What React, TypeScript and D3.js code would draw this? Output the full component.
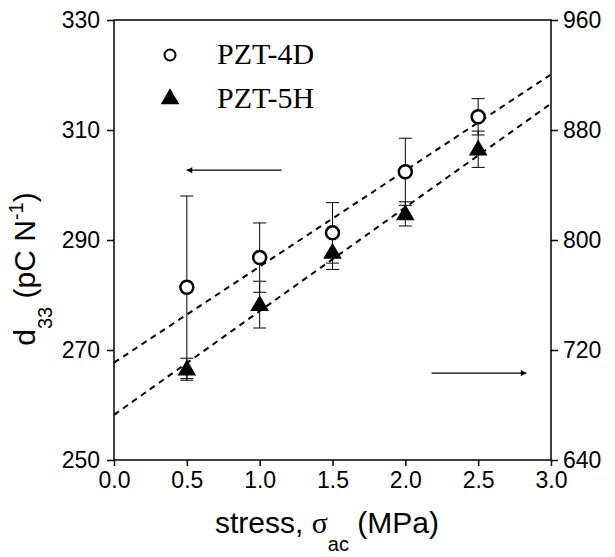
import React, { useEffect, useRef } from "react";
import * as d3 from "d3";

// stress (MPa)
const stress = [0.5, 1.0, 1.5, 2.0, 2.5];
// PZT-4D, left axis (pC/N)
const d33_4D = [281.4, 286.8, 291.3, 302.4, 312.4];
const err_4D = [16.6, 6.3, 5.5, 6.1, 3.3];
// PZT-5H, right axis (pC/N)
const d33_5H = [706, 753, 791, 819, 866];
const err_5H = [8, 17, 12.4, 8.8, 13.2];
// linear fits, end points
const fit_4D: [number, number][] = [[0, 267.7], [3, 320.1]];
const fit_5H: [number, number][] = [[0, 672.8], [3, 899.2]];
// axis arrows
const arrow_4D: [number, number][] = [[1.15, 302.7], [0.5, 302.7]];
const arrow_5H: [number, number][] = [[2.18, 703.2], [2.83, 703.2]];

const xTicks = [0, 0.5, 1.0, 1.5, 2.0, 2.5, 3.0];
const yLeftTicks = [250, 270, 290, 310, 330];
const yRightTicks = [640, 720, 800, 880, 960];

const W = 615;
const H = 557;
const sans = "'Liberation Sans', Arial, sans-serif";
const serif = "'Liberation Serif', 'Times New Roman', serif";

const App = () => {
  const svgRef = useRef(null);

  useEffect(() => {
    const root = d3.select(svgRef.current);
    root.selectAll("*").remove();

    const x = d3.scaleLinear().domain([0, 3]).range([114, 551]);
    const yL = d3.scaleLinear().domain([250, 330]).range([460, 20]);
    const yR = d3.scaleLinear().domain([640, 960]).range([460, 20]);

    const svg = root.append("g");

    // frame
    svg
      .append("rect")
      .attr("x", x(0))
      .attr("y", yL(330))
      .attr("width", x(3) - x(0))
      .attr("height", yL(250) - yL(330))
      .attr("fill", "none")
      .attr("stroke", "#000")
      .attr("stroke-width", 1.5);

    const styleAxis = (g) => {
      g.select(".domain").remove();
      g.selectAll(".tick line").attr("stroke", "#000").attr("stroke-width", 1.5);
      g.selectAll(".tick text")
        .attr("fill", "#000")
        .style("font-family", sans)
        .style("font-size", "23px");
    };

    svg
      .append("g")
      .attr("transform", `translate(0,${yL(250)})`)
      .call(
        d3.axisBottom(x).tickValues(xTicks).tickSize(6).tickPadding(6).tickFormat(d3.format(".1f")),
      )
      .call(styleAxis);

    svg
      .append("g")
      .attr("transform", `translate(${x(0)},0)`)
      .call(d3.axisLeft(yL).tickValues(yLeftTicks).tickSize(7).tickPadding(7))
      .call(styleAxis);

    svg
      .append("g")
      .attr("transform", `translate(${x(3)},0)`)
      .call(d3.axisRight(yR).tickValues(yRightTicks).tickSize(7).tickPadding(5))
      .call(styleAxis);

    // fit lines
    const lineL = d3.line<[number, number]>().x((d) => x(d[0])).y((d) => yL(d[1]));
    const lineR = d3.line<[number, number]>().x((d) => x(d[0])).y((d) => yR(d[1]));

    svg
      .append("path")
      .attr("d", lineL(fit_4D))
      .attr("fill", "none")
      .attr("stroke", "#000")
      .attr("stroke-width", 2)
      .attr("stroke-dasharray", "6,5");

    svg
      .append("path")
      .attr("d", lineR(fit_5H))
      .attr("fill", "none")
      .attr("stroke", "#000")
      .attr("stroke-width", 2)
      .attr("stroke-dasharray", "6,5");

    // error bars
    const errorBars = (vals, errs, y) => {
      const g = svg.append("g").attr("stroke", "#000").attr("stroke-width", 1);
      stress.forEach((s, i) => {
        const cx = x(s);
        const top = y(vals[i] + errs[i]);
        const bot = y(vals[i] - errs[i]);
        g.append("line").attr("x1", cx).attr("x2", cx).attr("y1", top).attr("y2", bot);
        g.append("line").attr("x1", cx - 6.5).attr("x2", cx + 6.5).attr("y1", top).attr("y2", top);
        g.append("line").attr("x1", cx - 6.5).attr("x2", cx + 6.5).attr("y1", bot).attr("y2", bot);
      });
    };
    errorBars(d33_4D, err_4D, yL);
    errorBars(d33_5H, err_5H, yR);

    // markers
    const tri = d3.symbol().type(d3.symbolTriangle).size(150);
    svg
      .append("g")
      .selectAll("path")
      .data(stress)
      .join("path")
      .attr("d", tri)
      .attr("transform", (d, i) => `translate(${x(d)},${yR(d33_5H[i]) + 1})`)
      .attr("fill", "#000");

    svg
      .append("g")
      .selectAll("circle")
      .data(stress)
      .join("circle")
      .attr("cx", (d) => x(d))
      .attr("cy", (d, i) => yL(d33_4D[i]))
      .attr("r", 6.5)
      .attr("fill", "#fff")
      .attr("stroke", "#000")
      .attr("stroke-width", 2.5);

    // arrows
    const defs = root.append("defs");
    defs
      .append("marker")
      .attr("id", "arrowhead")
      .attr("viewBox", "0 0 10 10")
      .attr("refX", 9)
      .attr("refY", 5)
      .attr("markerWidth", 8)
      .attr("markerHeight", 6)
      .attr("markerUnits", "userSpaceOnUse")
      .attr("orient", "auto")
      .append("path")
      .attr("d", "M0,0L10,5L0,10Z")
      .attr("fill", "#000");

    svg
      .append("path")
      .attr("d", lineL(arrow_4D))
      .attr("stroke", "#000")
      .attr("stroke-width", 1.2)
      .attr("marker-end", "url(#arrowhead)");

    svg
      .append("path")
      .attr("d", lineR(arrow_5H))
      .attr("stroke", "#000")
      .attr("stroke-width", 1.2)
      .attr("marker-end", "url(#arrowhead)");

    // legend
    const legend = svg.append("g");
    legend
      .append("circle")
      .attr("cx", 170)
      .attr("cy", 55)
      .attr("r", 5.5)
      .attr("fill", "#fff")
      .attr("stroke", "#000")
      .attr("stroke-width", 2);
    legend
      .append("path")
      .attr("d", tri)
      .attr("transform", "translate(170,99)")
      .attr("fill", "#000");
    legend
      .append("text")
      .attr("x", 217)
      .attr("y", 64)
      .style("font-family", serif)
      .style("font-size", "30px")
      .text("PZT-4D");
    legend
      .append("text")
      .attr("x", 217)
      .attr("y", 108)
      .style("font-family", serif)
      .style("font-size", "30px")
      .text("PZT-5H");

    // axis titles
    const xt = svg
      .append("text")
      .attr("x", 215)
      .attr("y", 533)
      .style("font-family", sans)
      .style("font-size", "30px");
    xt.append("tspan").text("stress, ");
    xt.append("tspan").style("font-family", serif).text("σ");
    xt.append("tspan").attr("dy", 18).style("font-size", "20px").text("ac");
    xt.append("tspan").attr("dy", -18).text(" (MPa)");

    const yt = svg
      .append("text")
      .attr("transform", "translate(35,269) rotate(-90)")
      .attr("text-anchor", "middle")
      .style("font-family", sans)
      .style("font-size", "30px");
    yt.append("tspan").text("d");
    yt.append("tspan").attr("dy", 17).style("font-size", "20px").text("33");
    yt.append("tspan").attr("dy", -17).text(" (pC N");
    yt.append("tspan").attr("dy", -12).style("font-size", "20px").text("-1");
    yt.append("tspan").attr("dy", 12).text(")");
  }, []);

  return (
    <svg
      ref={svgRef}
      width={W}
      height={H}
      style={{ position: "absolute", left: 0, top: 0, background: "#fff" }}
    />
  );
};

export default App;
